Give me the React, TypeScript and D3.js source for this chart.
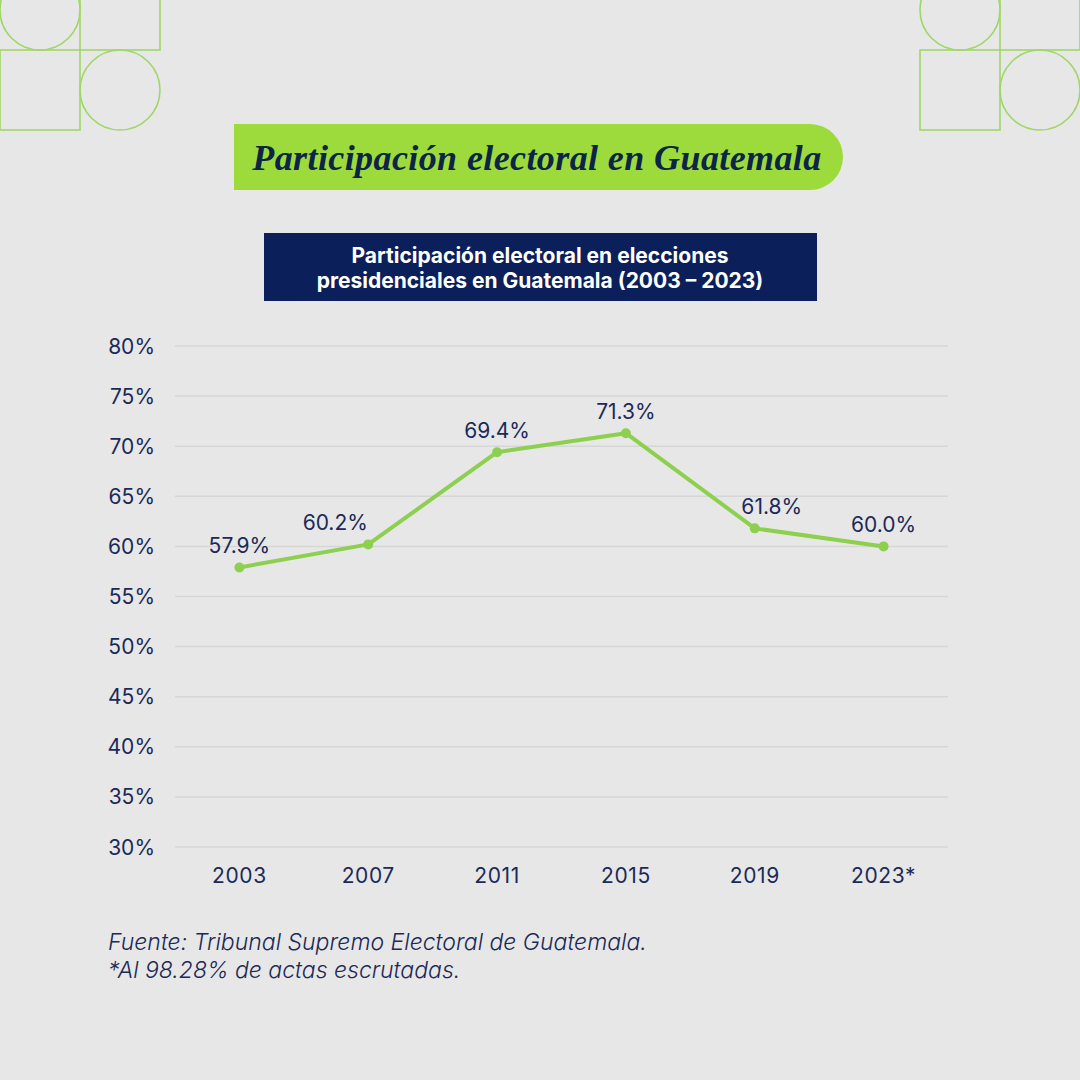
import * as d3 from "d3";

// Participación electoral (%) por año de elección presidencial
const years = ["2003", "2007", "2011", "2015", "2019", "2023*"];
const turnout = [57.9, 60.2, 69.4, 71.3, 61.8, 60.0];
const yTicks = [30, 35, 40, 45, 50, 55, 60, 65, 70, 75, 80];

const navy = "#1b2a57";
const green = "#8dd04f";
const sans = "Inter, 'Noto Sans', sans-serif";

export default function App() {
  const W = 1080;
  const H = 1080;
  const plot = { left: 175, right: 948, top: 346, bottom: 847 };

  const x = d3
    .scalePoint<string>()
    .domain(years)
    .range([plot.left, plot.right])
    .padding(0.5);
  const y = d3.scaleLinear().domain([30, 80]).range([plot.bottom, plot.top]);

  const pts = years.map((yr, i) => ({ yr, v: turnout[i] }));
  const line = d3
    .line<{ yr: string; v: number }>()
    .x((d) => x(d.yr) ?? 0)
    .y((d) => y(d.v));

  // nudge labels sideways when the line climbs steeply after / falls steeply into a point
  const labelDx = (i: number) => {
    const next = turnout[i + 1];
    const prev = turnout[i - 1];
    if (next !== undefined && next - turnout[i] > 5) return -33;
    if (prev !== undefined && prev - turnout[i] > 5) return 17;
    return 0;
  };

  // Title pill: flat left side, round right end
  const tx0 = 234, tx1 = 843, ty0 = 124, ty1 = 190, r = 33;
  const pill = `M${tx0},${ty0} H${tx1 - r} A${r},${r} 0 0 1 ${tx1},${ty0 + r} A${r},${r} 0 0 1 ${tx1 - r},${ty1} H${tx0} Z`;

  const deco = (ox: number) => (
    <g fill="none" stroke="#9fd766" strokeWidth={1.6}>
      <circle cx={ox + 40} cy={10} r={40} />
      <rect x={ox + 80} y={-30} width={80} height={80} />
      <rect x={ox} y={50} width={80} height={80} />
      <circle cx={ox + 120} cy={90} r={40} />
    </g>
  );

  return (
    <div style={{ position: "absolute", left: 0, top: 0 }}>
      <svg width={W} height={H} style={{ display: "block" }}>
        <rect width={W} height={H} fill="#e7e7e7" />
        {deco(0)}
        {deco(920)}

        <path d={pill} fill="#9ddb3c" />
        <text
          x={537}
          y={170}
          textAnchor="middle"
          fontFamily="'Liberation Serif', 'DejaVu Serif', serif"
          fontStyle="italic"
          fontWeight={700}
          fontSize={36}
          letterSpacing={0.4}
          fill="#0c2446"
        >
          Participación electoral en Guatemala
        </text>

        <rect x={264} y={233} width={553} height={68} fill="#0b1f5b" />
        <text
          textAnchor="middle"
          fontFamily={sans}
          fontWeight={700}
          fontSize={21}
          fill="#ffffff"
        >
          <tspan x={540} y={263}>
            Participación electoral en elecciones
          </tspan>
          <tspan x={540} y={288}>
            presidenciales en Guatemala (2003 – 2023)
          </tspan>
        </text>

        <g fontFamily={sans} fill={navy} fontSize={21}>
          {yTicks.map((t) => (
            <g key={t}>
              <line
                x1={plot.left}
                x2={plot.right}
                y1={y(t)}
                y2={y(t)}
                stroke="#d6d6d6"
                strokeWidth={1.5}
              />
              <text x={155} y={y(t)} textAnchor="end" dominantBaseline="central">
                {t}%
              </text>
            </g>
          ))}
          {years.map((yr) => (
            <text key={yr} x={x(yr)} y={883} textAnchor="middle" letterSpacing={0.6}>
              {yr}
            </text>
          ))}
        </g>

        <path d={line(pts) ?? ""} fill="none" stroke={green} strokeWidth={4} strokeLinejoin="round" />
        {pts.map((d, i) => (
          <g key={d.yr}>
            <circle cx={x(d.yr)} cy={y(d.v)} r={5} fill={green} />
            <text
              x={(x(d.yr) ?? 0) + labelDx(i)}
              y={y(d.v) - 14}
              textAnchor="middle"
              fontFamily={sans}
              fontSize={21}
              fill={navy}
            >
              {d.v.toFixed(1)}%
            </text>
          </g>
        ))}

        <text
          fontFamily={sans}
          fontStyle="italic"
          fontWeight={300}
          fontSize={23}
          fill={navy}
        >
          <tspan x={108} y={950}>
            Fuente: Tribunal Supremo Electoral de Guatemala.
          </tspan>
          <tspan x={108} y={978}>
            *Al 98.28% de actas escrutadas.
          </tspan>
        </text>
      </svg>
    </div>
  );
}
